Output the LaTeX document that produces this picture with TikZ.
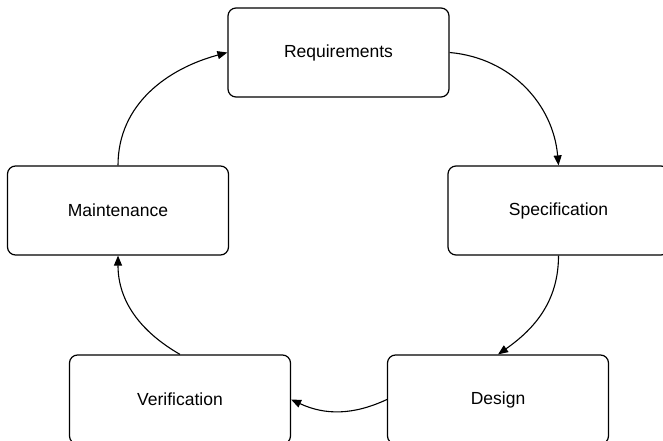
\documentclass[tikz,border=0pt]{standalone}
\usepackage{fontspec}
\setmainfont{Liberation Sans}
\usetikzlibrary{arrows.meta}
\begin{document}
\begin{tikzpicture}[x=1pt,y=-1pt,
    every node/.style={rectangle,rounded corners=8pt,draw,line width=1.2pt,minimum width=221pt,minimum height=89pt,font=\fontsize{17.5}{21}\selectfont},
    flow/.style={line width=1.1pt,-{Triangle[length=10pt,width=8pt]}}]
                \useasboundingbox (0,0) rectangle (663,441);
                \node (req) at (338.5,52.5) {Requirements};
                \node (spec) at (558.5,210.5) {Specification};
                \node (design) at (498,399.5) {Design};
                \node (verif) at (180,399.5) {Verification};
                \node (maint) at (118,210.5) {Maintenance};
                \draw[flow] (req.east) to[out=-5,in=95] (spec.north);
                \draw[flow] (spec.south) to[out=-90,in=35] (design.north);
                \draw[flow] (design.west) to[out=205,in=-25] (verif.east);
                \draw[flow] (verif.north) to[out=150,in=-90] (maint.south);
                \draw[flow] (maint.north) to[out=90,in=195] (req.west);
            \end{tikzpicture}
\end{document}
